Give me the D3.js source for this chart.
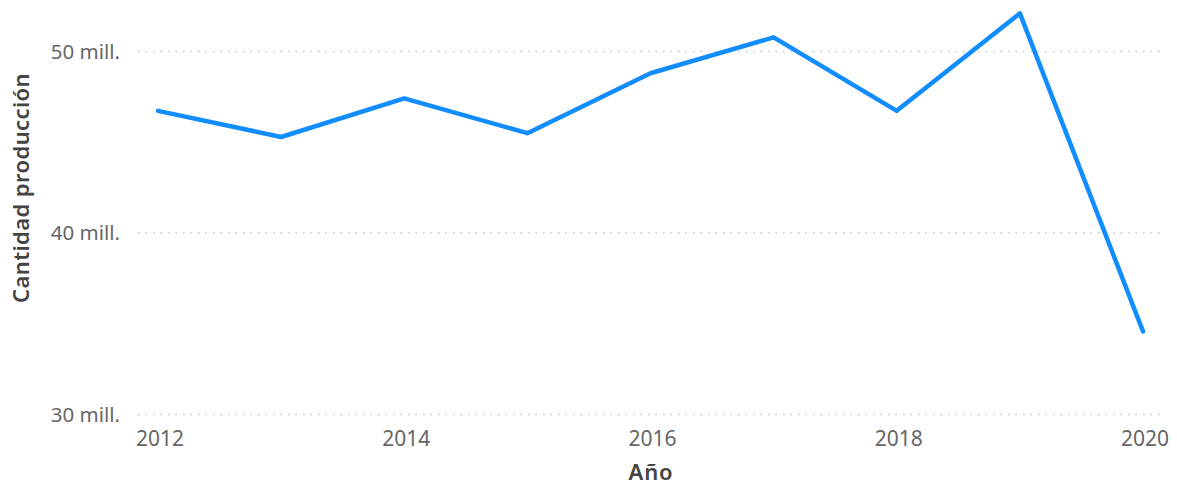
<!DOCTYPE html>
<html><head><meta charset="utf-8">
<script src="https://cdn.jsdelivr.net/npm/d3@7/dist/d3.min.js"></script>
<style>html,body{margin:0;padding:0;background:#fff;}</style>
</head><body>
<svg id="c" width="1177" height="485"></svg>
<script>
const years = [2012, 2013, 2014, 2015, 2016, 2017, 2018, 2019, 2020];
const production = [46.73, 45.29, 47.42, 45.50, 48.80, 50.78, 46.73, 52.10, 34.58]; // millions
const yTicks = [30, 40, 50];
const xTicks = [2012, 2014, 2016, 2018, 2020];
const yTitle = "Cantidad producción";
const xTitle = "Año";

const svg = d3.select("#c");
const x = d3.scaleLinear().domain([2012, 2020]).range([158, 1143]);
const y = d3.scaleLinear().domain([30, 50]).range([414.5, 51.5]);
const font = "'Noto Sans', 'Open Sans', sans-serif";

// gridlines
svg.append("g").selectAll("line").data(yTicks).join("line")
  .attr("x1", 138).attr("x2", 1163)
  .attr("y1", d => y(d)).attr("y2", d => y(d))
  .attr("stroke", "#c8c8c8").attr("stroke-width", 1.5)
  .attr("stroke-dasharray", "1.5,6");

// y tick labels
svg.append("g").selectAll("text").data(yTicks).join("text")
  .attr("x", 120).attr("y", d => y(d)).attr("dy", "0.35em")
  .attr("text-anchor", "end")
  .attr("font-family", font).attr("font-size", 20.5).attr("fill", "#666")
  .text(d => d + " mill.");

// x tick labels
svg.append("g").selectAll("text").data(xTicks).join("text")
  .attr("x", d => x(d) + 2).attr("y", 446)
  .attr("text-anchor", "middle")
  .attr("font-family", font).attr("font-size", 21).attr("fill", "#666")
  .text(d => d);

// titles
svg.append("text").attr("x", 651).attr("y", 480)
  .attr("text-anchor", "middle").attr("font-family", font)
  .attr("font-size", 22).attr("font-weight", 600).attr("letter-spacing", 0.8)
  .attr("fill", "#444").text(xTitle);
svg.append("text").attr("transform", "translate(29,188) rotate(-90)")
  .attr("text-anchor", "middle").attr("font-family", font)
  .attr("font-size", 22).attr("font-weight", 600).attr("letter-spacing", 0.4)
  .attr("fill", "#444").text(yTitle);

// line
const line = d3.line().x((d, i) => x(years[i])).y(d => y(d));
svg.append("path").datum(production)
  .attr("d", line).attr("fill", "none")
  .attr("stroke", "#118DFF").attr("stroke-width", 4.5)
  .attr("stroke-linejoin", "round").attr("stroke-linecap", "round");
</script>
</body></html>
